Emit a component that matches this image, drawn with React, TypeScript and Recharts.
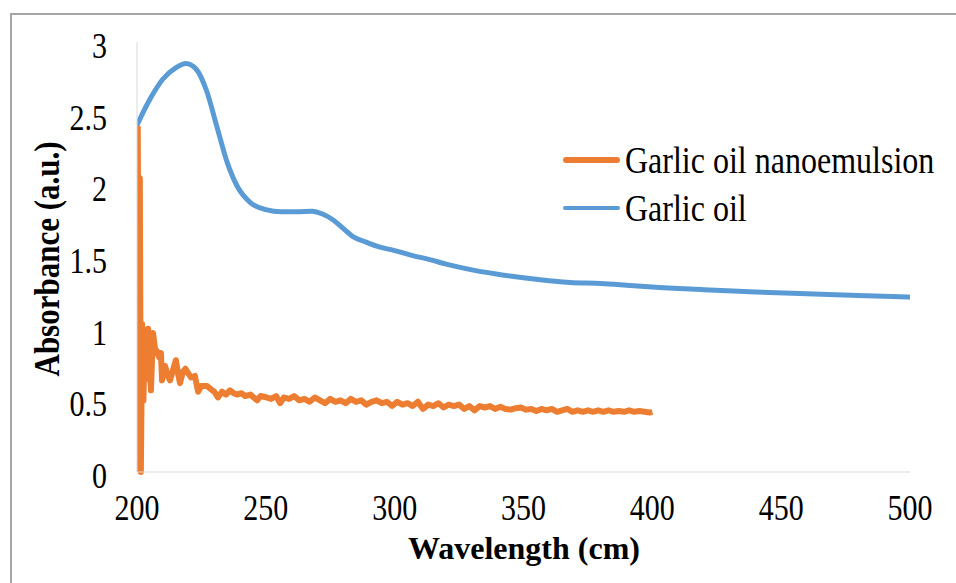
import React from "react";
import { LineChart, Line, XAxis, YAxis, Legend } from "recharts";

const FONT = "'Liberation Serif', 'Times New Roman', serif";
const STRETCH = 1.18;

// Garlic oil (blue)
const oilWavelength = [
  200, 205, 210, 215, 219, 223, 227, 231, 235, 239, 244, 250, 256, 262, 268,
  272, 276, 280, 284, 288, 294, 300, 307, 314, 320, 330, 340, 350, 360, 368,
  380, 390, 400, 420, 440, 460, 480, 500,
];
const oilAbsorbance = [
  2.42, 2.6, 2.74, 2.82, 2.85, 2.81, 2.66, 2.41, 2.16, 1.99, 1.88, 1.83, 1.815,
  1.815, 1.82, 1.8, 1.76, 1.7, 1.64, 1.61, 1.57, 1.545, 1.51, 1.48, 1.45, 1.41,
  1.38, 1.355, 1.335, 1.322, 1.315, 1.303, 1.29, 1.272, 1.256, 1.243, 1.232,
  1.22,
];

// Garlic oil nanoemulsion (orange) – noisy trace
const nanoWavelength = [
  200, 200.3, 200.7, 201.1, 201.5, 202, 202.5, 203, 203.5, 204.3, 205, 205.4,
  206.2, 207, 207.8, 208.6, 209.3, 209.7, 210.9, 211.8, 212.8, 213.8, 215.1,
  216, 216.7, 217.8, 218.8, 219.8, 221, 222.5, 223.7, 225, 227.2, 228.5, 230,
  231.4, 233, 234.5, 236.1, 237.5, 238.8, 240.5, 242, 244, 246.6, 248, 250.4,
  252, 254, 255.5, 257, 259, 261, 263, 265, 267, 269, 271, 273, 275, 277, 279,
  281, 283, 285, 287, 289, 291, 293, 295, 297, 299, 301, 303, 305, 307, 309,
  311, 313, 315, 317, 319, 321, 323, 325, 327, 329, 331, 333, 335, 337, 339,
  341, 343, 345, 347, 349, 351, 353, 355, 357, 359, 361, 363, 365, 367, 369,
  371, 373, 375, 377, 379, 381, 383, 385, 387, 389, 391, 393, 395, 397, 399,
  400,
];
const nanoAbsorbance = [
  0, 2.4, 0.2, 2.05, 0, 1.03, 0.5, 0.98, 0.65, 1.0, 0.72, 0.57, 0.97, 0.86,
  0.84, 0.8, 0.83, 0.64, 0.74, 0.68, 0.64, 0.7, 0.78, 0.68, 0.62, 0.7, 0.72,
  0.69, 0.66, 0.67, 0.56, 0.6, 0.6, 0.58, 0.56, 0.52, 0.56, 0.54, 0.57, 0.55,
  0.54, 0.55, 0.53, 0.54, 0.5, 0.53, 0.52, 0.51, 0.53, 0.48, 0.52, 0.51, 0.53,
  0.5, 0.51, 0.49, 0.52, 0.5, 0.48, 0.51, 0.49, 0.5, 0.48, 0.51, 0.49, 0.5,
  0.47, 0.49, 0.5, 0.48, 0.49, 0.46, 0.49, 0.47, 0.48, 0.46, 0.49, 0.44, 0.47,
  0.46, 0.48, 0.45, 0.47, 0.46, 0.47, 0.44, 0.46, 0.43, 0.46, 0.45, 0.46, 0.44,
  0.455, 0.44, 0.435, 0.445, 0.45, 0.435, 0.44, 0.425, 0.44, 0.43, 0.44, 0.42,
  0.43, 0.44, 0.42, 0.43, 0.42, 0.43, 0.42, 0.43, 0.42, 0.43, 0.42, 0.425,
  0.42, 0.43, 0.42, 0.425, 0.42, 0.415, 0.42,
];

const xTicks = [200, 250, 300, 350, 400, 450, 500];
const yTicks = [0, 0.5, 1, 1.5, 2, 2.5, 3];

const seriesNames = ["Garlic oil nanoemulsion", "Garlic oil"];
const seriesColors = ["#ED7D31", "#5B9BD5"];

const oilData = oilWavelength.map((x, i) => ({ x, y: oilAbsorbance[i] }));
const nanoData = nanoWavelength.map((x, i) => ({ x, y: nanoAbsorbance[i] }));

// text stretched a little vertically, like the source figure
const TallText = ({ x, y, anchor, size, bold, rotate, stretch = STRETCH, children }: any) => (
  <g transform={`translate(${x},${y})${rotate ? ` rotate(${rotate})` : ""} scale(1,${stretch})`}>
    <text
      x={0}
      y={0}
      textAnchor={anchor}
      fontSize={size}
      fontWeight={bold ? "bold" : "normal"}
      fontFamily={FONT}
      fill="#000"
    >
      {children}
    </text>
  </g>
);

const XTick = (props: any) => {
  const { x, y, payload } = props;
  return (
    <TallText x={x} y={y + 48} anchor="middle" size={30}>
      {payload.value}
    </TallText>
  );
};

const YTick = (props: any) => {
  const { x, y, payload } = props;
  return (
    <TallText x={x} y={y + 16} anchor="end" size={30}>
      {payload.value}
    </TallText>
  );
};

const renderLegend = () => (
  <div style={{ fontFamily: FONT, fontSize: 32, color: "#000" }}>
    {seriesNames.map((name, i) => (
      <div key={name} style={{ display: "flex", alignItems: "center", height: 48 }}>
        <div
          style={{
            width: 57,
            height: i === 0 ? 6 : 4,
            background: seriesColors[i],
            borderRadius: 3,
            marginRight: 5,
          }}
        />
        <span
          style={{
            lineHeight: "48px",
            whiteSpace: "nowrap",
            display: "inline-block",
            transform: `scaleY(${STRETCH})`,
          }}
        >
          {name}
        </span>
      </div>
    ))}
  </div>
);

export default function App() {
  return (
    <div
      style={{
        position: "absolute",
        left: 0,
        top: 0,
        width: 956,
        height: 583,
        background: "#fff",
        overflow: "hidden",
      }}
    >
      <div
        style={{
          position: "absolute",
          left: 10,
          top: 13,
          right: 0,
          bottom: 0,
          borderTop: "2px solid #a6a6a6",
          borderLeft: "2px solid #a6a6a6",
        }}
      />
      <div style={{ position: "absolute", left: 0, top: 0 }}>
        <LineChart width={956} height={583} margin={{ top: 42, right: 46, bottom: 51, left: 0 }}>
          <XAxis
            type="number"
            dataKey="x"
            domain={[200, 500]}
            ticks={xTicks}
            allowDataOverflow
            height={60}
            stroke="#d9d9d9"
            tickLine={false}
            tickSize={0}
            tickMargin={0}
            tick={<XTick />}
            label={{
              content: () => (
                <TallText x={524} y={559} anchor="middle" size={32} bold stretch={1}>
                  Wavelength (cm)
                </TallText>
              ),
            }}
          />
          <YAxis
            type="number"
            domain={[0, 3]}
            ticks={yTicks}
            width={137}
            stroke="#d9d9d9"
            tickLine={false}
            tickSize={0}
            tickMargin={30}
            tick={<YTick />}
            label={{
              content: () => (
                <TallText x={59} y={259} anchor="middle" size={31} bold rotate={-90}>
                  Absorbance (a.u.)
                </TallText>
              ),
            }}
          />
          <Legend
            layout="vertical"
            align="center"
            verticalAlign="middle"
            content={renderLegend}
            wrapperStyle={{ left: 563, top: 136, width: 390 }}
          />
          <Line
            data={nanoData}
            dataKey="y"
            name={seriesNames[0]}
            type="linear"
            stroke={seriesColors[0]}
            strokeWidth={6}
            strokeLinejoin="round"
            dot={false}
            isAnimationActive={false}
          />
          <Line
            data={oilData}
            dataKey="y"
            name={seriesNames[1]}
            type="monotone"
            stroke={seriesColors[1]}
            strokeWidth={5}
            dot={false}
            isAnimationActive={false}
          />
        </LineChart>
      </div>
    </div>
  );
}
